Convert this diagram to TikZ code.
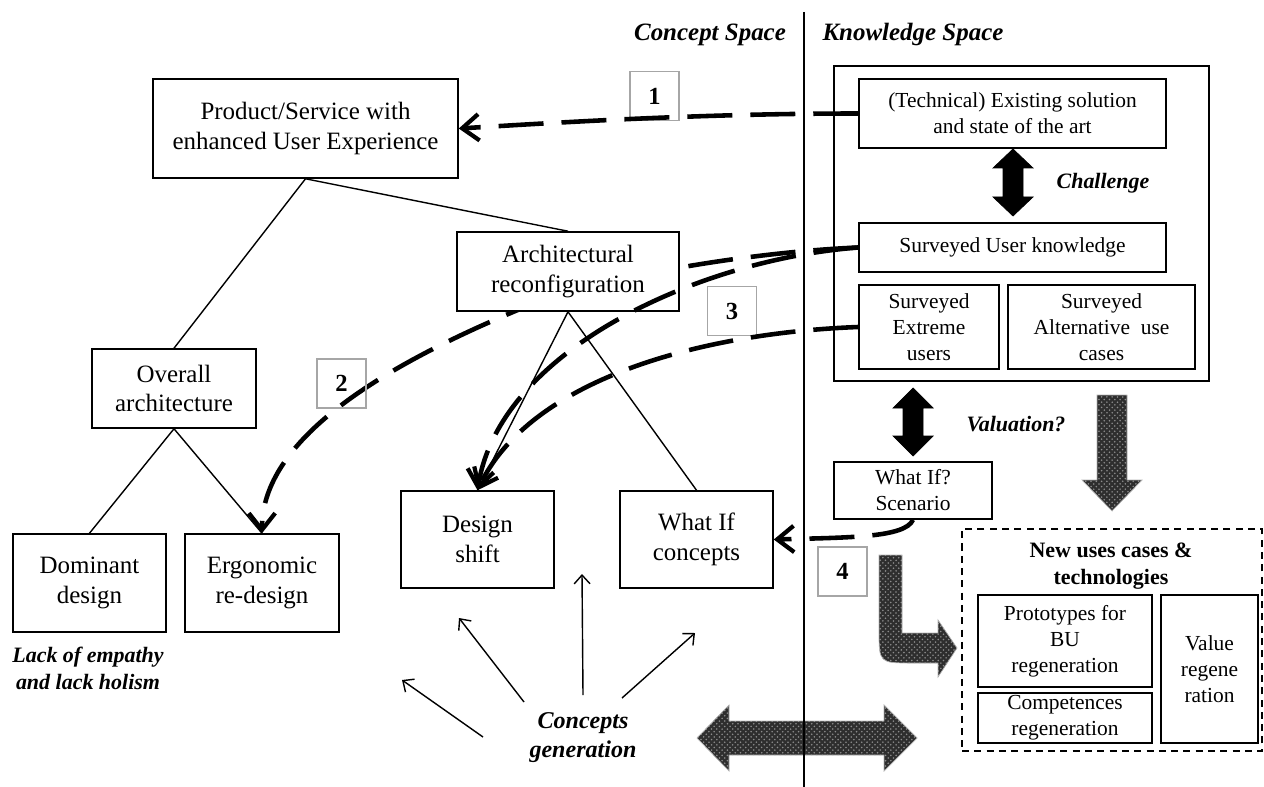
\documentclass[tikz,border=0pt]{standalone}
\usepackage{fontspec}
\setmainfont{Liberation Serif}
\usetikzlibrary{arrows.meta,backgrounds,patterns}
\begin{document}
\begin{tikzpicture}[x=0.02cm,y=-0.02cm,
  box/.style={draw,line width=0.9pt,align=center,inner sep=0pt,fill=white},
  big/.style={font=\fontsize{14.2}{17}\selectfont},
  small/.style={font=\fontsize{12.2}{14.8}\selectfont},
  lbl/.style={font=\fontsize{12.5}{15.4}\selectfont\bfseries\itshape,align=center},
  lblbig/.style={font=\fontsize{14.2}{17}\selectfont\bfseries\itshape,align=center},
  numbox/.style={draw=gray!70,line width=0.9pt,minimum width=0.98cm,minimum height=0.98cm,inner sep=0pt,font=\fontsize{14}{16}\selectfont\bfseries},
  thinline/.style={line width=0.8pt},
  thinarrow/.style={line width=0.8pt,-{Straight Barb[length=5pt,width=9pt,line width=0.8pt]}},
  dasharrow/.style={line width=2.6pt,dash pattern=on 0.9cm off 0.36cm,-{Straight Barb[length=9.5pt,width=15pt,line width=2.4pt]}},
  blockarrow/.style={preaction={fill=black!82},pattern=crosshatch dots,pattern color=white!55!black,draw=gray!60,line width=0.4pt},
  solidarrow/.style={fill=black,draw=black,line width=0.4pt}
]
\useasboundingbox (0,0) rectangle (1264,787);

% concept space nodes
\node[box,big,minimum width=6.10cm,minimum height=1.98cm] (prod) at (305.5,128.5) {Product/Service with\\enhanced User Experience};
\node[box,big,minimum width=3.28cm,minimum height=1.58cm] (overall) at (174,388.5) {Overall\\architecture};
\node[box,big,minimum width=3.06cm,minimum height=1.96cm] (dom) at (89.5,583) {Dominant\\design};
\node[box,big,minimum width=3.08cm,minimum height=1.96cm] (ergo) at (262,583) {Ergonomic\\re-design};
\node[box,big,minimum width=4.44cm,minimum height=1.58cm] (arch) at (568,271.5) {Architectural\\reconfiguration};
\node[box,big,minimum width=3.06cm,minimum height=1.94cm] (dshift) at (477.5,539.5) {Design\\shift};
\node[box,big,minimum width=3.06cm,minimum height=1.94cm] (wic) at (696.5,539.5) {What If\\concepts};

% knowledge space nodes
\node[draw,line width=0.9pt,minimum width=7.5cm,minimum height=6.3cm,inner sep=0pt] (ks) at (1021.5,223.5) {};
\node[box,small,minimum width=6.14cm,minimum height=1.38cm] (tech) at (1012.5,113.5) {(Technical) Existing solution\\and state of the art};
\node[box,small,minimum width=6.14cm,minimum height=0.98cm] (suk) at (1012.5,247.5) {Surveyed User knowledge};
\node[box,small,minimum width=2.80cm,minimum height=1.68cm] (sext) at (929,327) {Surveyed\\Extreme\\users};
\node[box,small,minimum width=3.74cm,minimum height=1.68cm] (salt) at (1101.5,327) {Surveyed\\Alternative\ \ use\\cases};
\node[box,small,minimum width=3.16cm,minimum height=1.14cm] (wif) at (913,490.5) {What If?\\Scenario};

\node[draw,line width=0.9pt,dash pattern=on 4pt off 3pt,minimum width=6.0cm,minimum height=4.44cm,inner sep=0pt] (nb) at (1112,640) {};
\node[font=\fontsize{12.5}{15.4}\selectfont\bfseries,align=center] (nbt) at (1111,566) {New uses cases \&\\technologies};
\node[box,small,minimum width=3.48cm,minimum height=1.84cm] (proto) at (1065,641) {Prototypes for\\BU\\regeneration};
\node[box,small,minimum width=3.48cm,minimum height=1.00cm] (comp) at (1065,718) {Competences\\regeneration};
\node[box,small,minimum width=1.94cm,minimum height=2.96cm] (val) at (1209.5,669) {Value\\regene\\ration};

% labels
\node[lblbig] (cs) at (710,35) {Concept Space};
\node[lblbig] (kspace) at (913,35) {Knowledge Space};
\node[lbl] (chal) at (1103,183) {Challenge};
\node[lbl] (valu) at (1016,424) {Valuation?};
\node[lbl] (lack) at (88,668) {Lack of empathy\\and lack holism};
\node[font=\fontsize{13.7}{16.5}\selectfont\bfseries\itshape,align=center] (cg) at (583,738) {Concepts\\generation};

% number boxes
\node[numbox] (n1) at (654.5,96) {1};
\node[numbox] (n2) at (341.5,383.5) {2};
\node[numbox] (n3) at (732,311) {3};
\node[numbox] (n4) at (842.5,571.5) {4};

% tree lines
\draw[thinline] (prod.south) -- (overall.north);
\draw[thinline] (prod.south) -- (arch.north);
\draw[thinline] (overall.south) -- (dom.north);
\draw[thinline] (overall.south) -- (ergo.north);
\draw[thinline] (arch.south) -- (dshift.north);
\draw[thinline] (arch.south) -- (wic.north);

% block arrows
\filldraw[blockarrow] (1097,395) -- (1127,395) -- (1127,480) -- (1142,480) -- (1112,511) -- (1082,480) -- (1097,480) -- cycle;
\filldraw[blockarrow] (902,555) -- (879,555) -- (879,630) .. controls (879,663) and (879,663) .. (912,663) -- (938,663) -- (938,677) -- (957,648) -- (938,620) -- (938,633) -- (902,633) -- cycle;
\filldraw[blockarrow] (697,738) -- (729,705) -- (729,721) -- (884,721) -- (884,705) -- (917,738) -- (884,771) -- (884,755) -- (729,755) -- (729,771) -- cycle;

% divider
\coordinate (dtop) at (804,12);
\coordinate (dbot) at (804,787);
\draw[line width=1.6pt] (dtop) -- (dbot);

% black double arrows
\filldraw[solidarrow] (1013,149) -- (1033,168) -- (1023,168) -- (1023,197) -- (1033,197) -- (1013,216) -- (993,197) -- (1003,197) -- (1003,168) -- (993,168) -- cycle;
\filldraw[solidarrow] (913,388) -- (933,408) -- (923,408) -- (923,436) -- (933,436) -- (913,456) -- (893,436) -- (903,436) -- (903,408) -- (893,408) -- cycle;

% dashed arrows
\draw[dasharrow] (tech.west) .. controls +(-160,0) and +(100,-6) .. (prod.east);
\begin{scope}[on background layer]
\draw[dasharrow] (suk.west) .. controls +(-99,4) and (600,275) .. (513,312) .. controls (380,368) and (262,440) .. (ergo.north);
\end{scope}
\draw[dasharrow] (suk.west) .. controls +(-159,12) and (500,350) .. (dshift.north);
\draw[dasharrow] (sext.west) .. controls +(-159,6) and (530,380) .. (dshift.north);
\draw[dasharrow] (wif.south) .. controls +(-8,18) and +(75,-2) .. (wic.east);

% concept generation arrows
\coordinate (a1s) at (483,737); \coordinate (a1e) at (402,680);
\coordinate (a2s) at (524,702); \coordinate (a2e) at (459,618);
\coordinate (a3s) at (583,695); \coordinate (a3e) at (582,574);
\coordinate (a4s) at (622,698); \coordinate (a4e) at (695,633);
\draw[thinarrow] (a1s) -- (a1e);
\draw[thinarrow] (a2s) -- (a2e);
\draw[thinarrow] (a3s) -- (a3e);
\draw[thinarrow] (a4s) -- (a4e);
\end{tikzpicture}
\end{document}
